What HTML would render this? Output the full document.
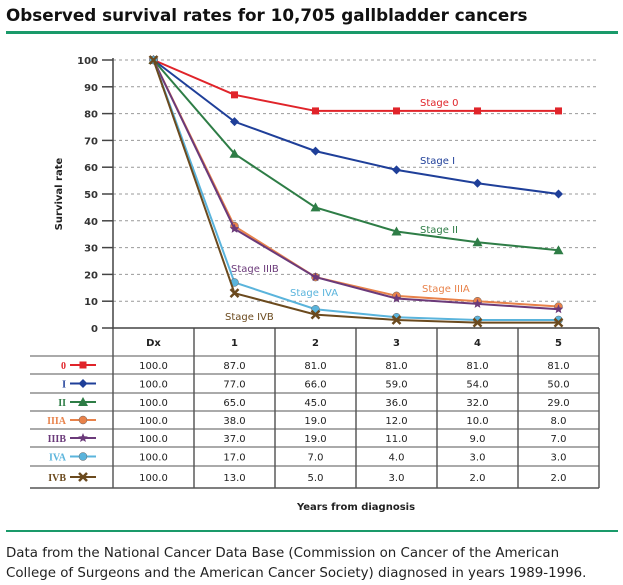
<!DOCTYPE html>
<html><head><meta charset="utf-8"><style>
body{margin:0;background:#fff;font-family:Verdana,"DejaVu Sans","Liberation Sans",sans-serif;}
#wrap{position:relative;width:623px;height:585px;overflow:hidden;}
</style></head><body>
<div id="wrap">
<svg id="svg" width="623" height="585" xmlns="http://www.w3.org/2000/svg"
 font-family="'DejaVu Sans','Liberation Sans',sans-serif">
<text x="6" y="21" font-size="16.8" font-weight="bold" fill="#111">Observed survival rates for 10,705 gallbladder cancers</text>
<rect x="6" y="31" width="612" height="3" fill="#1a9a6a"/>
<rect x="6" y="530" width="612" height="2" fill="#1a9a6a"/>
<text x="6" y="557" font-size="13.4" fill="#222">Data from the National Cancer Data Base (Commission on Cancer of the American</text>
<text x="6" y="577" font-size="13.4" fill="#222">College of Surgeons and the American Cancer Society) diagnosed in years 1989-1996.</text>
<text transform="translate(62,194) rotate(-90)" text-anchor="middle" font-size="10" font-weight="bold" fill="#222">Survival rate</text>
<text x="356" y="510" text-anchor="middle" font-size="10" font-weight="bold" fill="#222">Years from diagnosis</text>
<g id="g"></g>
</svg>
</div>
<script>
const categories=["Dx","1","2","3","4","5"];
const yTicks=[0,10,20,30,40,50,60,70,80,90,100];
const seriesNames=["0","I","II","IIIA","IIIB","IVA","IVB"];
const s0=[100,87,81,81,81,81];
const s1=[100,77,66,59,54,50];
const s2=[100,65,45,36,32,29];
const s3a=[100,38,19,12,10,8];
const s3b=[100,37,19,11,9,7];
const s4a=[100,17,7,4,3,3];
const s4b=[100,13,5,3,2,2];
const seriesValues=[s0,s1,s2,s3a,s3b,s4a,s4b];
const colors=["#e0242a","#1f3f99","#2e7d46","#e8824a","#6b3a7a","#5ab4dc","#6b4a1e"];
const markers=["square","diamond","triangle","circle","star","circle","x"];
const labelText=["Stage 0","Stage I","Stage II","Stage IIIA","Stage IIIB","Stage IVA","Stage IVB"];
const labelPos=[[420,106],[420,164],[420,233],[422,292],[231,272],[290,296],[225,320]];

const NS="http://www.w3.org/2000/svg";
const g=document.getElementById('g');
const X0=113,CW=81,Y0=328,Y1=60;
const xAt=i=>X0+CW*i+CW/2;
const yAt=v=>Y0-(v/100)*(Y0-Y1);
function mk(tag,at,parent){const e=document.createElementNS(NS,tag);for(const k in at)e.setAttribute(k,at[k]);(parent||g).appendChild(e);return e;}

yTicks.forEach(t=>{
  const y=yAt(t);
  if(t>0){const l=mk('line',{x1:X0,x2:598,y1:y,y2:y,stroke:'#999','stroke-dasharray':'3,3','stroke-width':1});
  
  }
  const tk=mk('line',{x1:102,x2:X0,y1:y,y2:y,stroke:'#444','stroke-width':1.5});
  
  
  const tx=mk('text',{x:98,y:y+4,'text-anchor':'end','font-size':10,'font-weight':'bold',fill:'#333'});
  tx.textContent=t;
  
  
});
const ax=mk('line',{x1:X0,x2:X0,y1:Y1-2,y2:Y0,stroke:'#444','stroke-width':1.5});



function marker(type,x,y,c,parent){
  if(type==='square')mk('rect',{x:x-3.5,y:y-3.5,width:7,height:7,fill:c},parent);
  else if(type==='diamond')mk('polygon',{points:`${x},${y-4.5} ${x+4.5},${y} ${x},${y+4.5} ${x-4.5},${y}`,fill:c},parent);
  else if(type==='triangle')mk('polygon',{points:`${x},${y-5} ${x+5},${y+4} ${x-5},${y+4}`,fill:c},parent);
  else if(type==='circle')mk('circle',{cx:x,cy:y,r:4,fill:c,stroke:'#666','stroke-width':0.5},parent);
  else if(type==='star'){let p=[];for(let k=0;k<10;k++){const r=k%2?2.2:5,a=-Math.PI/2+k*Math.PI/5;p.push((x+r*Math.cos(a)).toFixed(1)+','+(y+r*Math.sin(a)).toFixed(1));}mk('polygon',{points:p.join(' '),fill:c},parent);}
  else if(type==='x'){mk('path',{d:`M${x-4},${y-4}L${x+4},${y+4}M${x+4},${y-4}L${x-4},${y+4}`,stroke:c,'stroke-width':2.5},parent);}
}

seriesValues.forEach((vals,si)=>{
  const sg=mk('g',{});
  
  
  const pts=vals.map((v,i)=>xAt(i)+','+yAt(v)).join(' ');
  mk('polyline',{points:pts,fill:'none',stroke:colors[si],'stroke-width':2},sg);
  vals.forEach((v,i)=>marker(markers[si],xAt(i),yAt(v),colors[si],sg));
  const lt=mk('text',{x:labelPos[si][0],y:labelPos[si][1],'font-size':10,fill:colors[si]});
  lt.textContent=labelText[si];
  
  
});

const rowY=[328,356,374,393,411,429,447,466,488];
const tb=mk('g',{});


for(let c=0;c<=6;c++){mk('line',{x1:X0+CW*c,x2:X0+CW*c,y1:328,y2:488,stroke:'#333','stroke-width':1.2},tb);}
rowY.forEach((y,i)=>{if(i>0)mk('line',{x1:30,x2:599,y1:y,y2:y,stroke:'#555','stroke-width':i===rowY.length-1?1.5:1},tb);});
mk('line',{x1:X0,x2:599,y1:328,y2:328,stroke:'#444','stroke-width':1.5},tb);
categories.forEach((c,i)=>{
  const t=mk('text',{x:xAt(i),y:346,'text-anchor':'middle','font-size':10,'font-weight':'bold',fill:'#222'},tb);
  t.textContent=c;
  
  
});
seriesValues.forEach((vals,si)=>{
  const cy=(rowY[si+1]+rowY[si+2])/2;
  const lt=mk('text',{x:66,y:cy+4,'text-anchor':'end','font-size':10,'font-weight':'bold',fill:colors[si],'font-family':"'Liberation Serif',serif"},tb);
  lt.textContent=seriesNames[si];
  
  
  mk('line',{x1:70,x2:96,y1:cy,y2:cy,stroke:colors[si],'stroke-width':2},tb);
  marker(markers[si],83,cy,colors[si],tb);
  vals.forEach((v,i)=>{
    const t=mk('text',{x:xAt(i),y:cy+4,'text-anchor':'middle','font-size':10,fill:'#222'},tb);
    t.textContent=v.toFixed(1);
    
    
  });
});
</script>
</body></html>
